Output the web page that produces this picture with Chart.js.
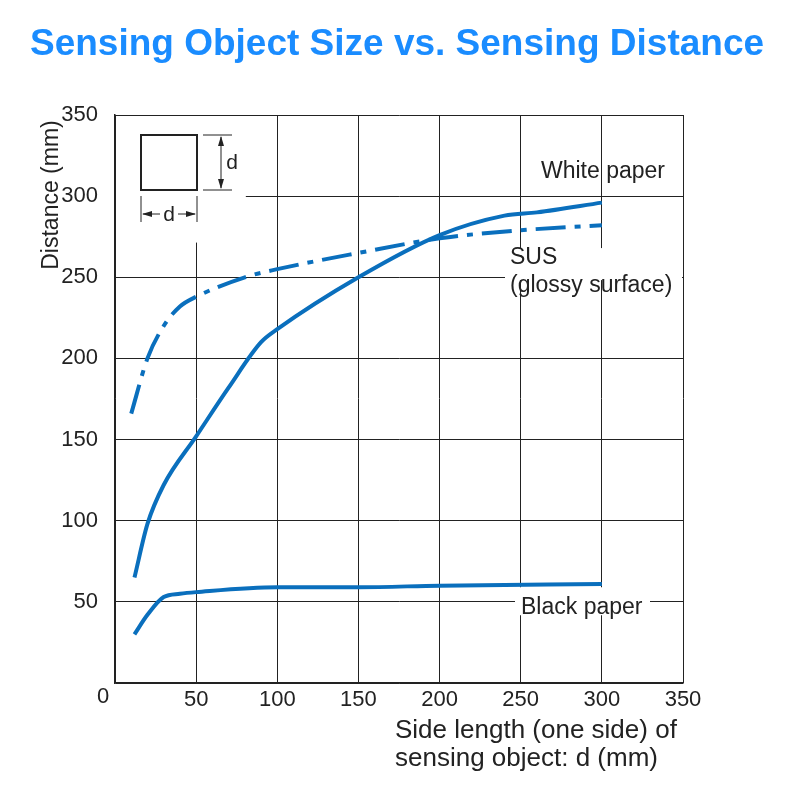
<!DOCTYPE html>
<html><head><meta charset="utf-8">
<script src="https://cdn.jsdelivr.net/npm/chart.js@4"></script>
<style>body{margin:0;background:#fff}#w{width:800px;height:800px}</style>
</head><body><div id="w"><canvas id="c"></canvas></div>
<script>
const whiteX=[12,20,30,50,70,90,100,150,200,240,260,300];
const whiteY=[65,98,122,152,182,210,218,250,276,288,290,296];
const susX=[10,20,30,40,50,80,100,150,200,250,300];
const susY=[166,200,220,232,238,250,255,265,274,279,282];
const blackX=[12,20,30,40,50,100,150,200,300];
const blackY=[30,42,53,55,56,59,59,60,61];
const xTicks=[0,50,100,150,200,250,300,350];
const yTicks=[50,100,150,200,250,300,350];
const blue='#0a6fbd';
const F='"Liberation Sans", Arial, sans-serif';
const pts=(xs,ys)=>xs.map((x,i)=>({x,y:ys[i]}));
const deco={id:'deco',
 beforeDatasetsDraw(c){const g=c.ctx,X=c.scales.x,Y=c.scales.y;g.save();g.fillStyle='#fff';
  g.fillRect(X.left+1,Y.top+1,X.getPixelForValue(80)-X.left,Y.getPixelForValue(272)-Y.top);
  g.fillRect(505,Y.getPixelForValue(268),X.right-506,32);
  g.fillRect(515,Y.getPixelForValue(59),135,28);
  g.restore();},
 afterDraw(c){const g=c.ctx;g.save();
  g.fillStyle='#1a8cff';g.font='bold 37px '+F;g.textAlign='center';g.textBaseline='middle';
  g.fillText('Sensing Object Size vs. Sensing Distance',397,45);
  g.fillStyle='#222';g.font='23px '+F;g.textAlign='left';
  g.fillText('White paper',541,172);
  g.fillText('SUS',510,258);g.fillText('(glossy surface)',510,286);
  g.fillText('Black paper',521,608);
  g.font='26px '+F;g.fillText('Side length (one side) of',395,731);g.fillText('sensing object: d (mm)',395,759);
  g.font='22px '+F;g.textAlign='center';g.fillText('0',103,697);
  g.save();g.translate(52,195);g.rotate(-Math.PI/2);g.font='23px '+F;g.fillText('Distance (mm)',0,0);g.restore();
  g.strokeStyle='#222';g.lineWidth=2;g.strokeRect(141,135,56,55);
  g.lineWidth=1;g.beginPath();
  g.moveTo(203,135);g.lineTo(232,135);g.moveTo(203,190);g.lineTo(232,190);
  g.moveTo(221,137);g.lineTo(221,188);
  g.moveTo(141,196);g.lineTo(141,222);g.moveTo(197,196);g.lineTo(197,222);
  g.moveTo(143,214);g.lineTo(160,214);g.moveTo(178,214);g.lineTo(195,214);g.stroke();
  g.fillStyle='#222';
  const tri=(a,b,c2,d,e,f)=>{g.beginPath();g.moveTo(a,b);g.lineTo(c2,d);g.lineTo(e,f);g.fill();};
  tri(221,136,218,146,224,146);tri(221,189,218,179,224,179);
  tri(142,214,152,211,152,217);tri(196,214,186,211,186,217);
  g.font='21px '+F;g.textAlign='center';g.fillText('d',232,163);g.fillText('d',169,215);
  g.restore();}};
new Chart(document.getElementById('c'),{type:'line',
 data:{datasets:[
  {data:pts(whiteX,whiteY),borderColor:blue,borderWidth:4,pointRadius:0,cubicInterpolationMode:'monotone'},
  {data:pts(susX,susY),borderColor:blue,borderWidth:4,pointRadius:0,cubicInterpolationMode:'monotone',borderDash:[30,9,6,9]},
  {data:pts(blackX,blackY),borderColor:blue,borderWidth:4,pointRadius:0,cubicInterpolationMode:'monotone'}]},
 options:{responsive:true,maintainAspectRatio:false,animation:false,
  layout:{padding:{left:0,right:117,top:115,bottom:0}},
  plugins:{legend:{display:false},tooltip:{enabled:false},title:{display:false}},
  scales:{
   x:{type:'linear',min:0,max:350,afterFit:s=>{s.height=117;},
    afterBuildTicks:s=>{s.ticks=xTicks.map(v=>({value:v}));},
    grid:{color:'#222',lineWidth:1,drawTicks:false},border:{color:'#222',width:1.5},
    ticks:{color:'#222',font:{size:22,family:F},padding:4,callback:v=>v===0?'':v}},
   y:{min:0,max:350,afterFit:s=>{s.width=115;},
    afterBuildTicks:s=>{s.ticks=[0,...yTicks].map(v=>({value:v}));},
    grid:{color:'#222',lineWidth:1,drawTicks:false},border:{color:'#222',width:1.5},
    ticks:{color:'#222',font:{size:22,family:F},padding:17,callback:v=>v===0?'':v}}}},
 plugins:[deco]});
</script></body></html>
